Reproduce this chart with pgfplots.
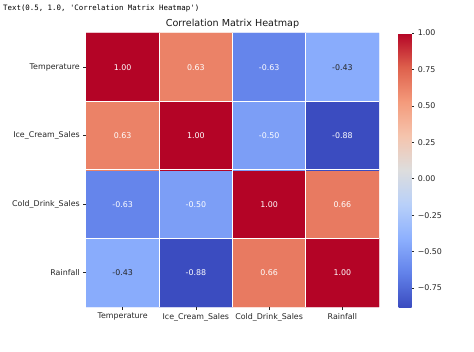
\documentclass[border=0pt]{standalone}
\usepackage{fontspec}
\setmainfont{DejaVu Sans}
\newfontfamily\monofont{DejaVu Sans Mono}
\usepackage{pgfplots}
\usepackage{pgfplotstable}
\pgfplotsset{compat=1.18}

\pgfplotstableread{
x y c
0 0 -0.43
1 0 -0.88
2 0 0.66
3 0 1.00
0 1 -0.63
1 1 -0.50
2 1 1.00
3 1 0.66
0 2 0.63
1 2 1.00
2 2 -0.50
3 2 -0.88
0 3 1.00
1 3 0.63
2 3 -0.63
3 3 -0.43
}\corr

\pgfplotstableread{
x y lab
1 0 -0.88
2 0 0.66
3 0 1.00
0 1 -0.63
1 1 -0.50
2 1 1.00
3 1 0.66
0 2 0.63
1 2 1.00
2 2 -0.50
3 2 -0.88
0 3 1.00
1 3 0.63
2 3 -0.63
}\whitelabs

\pgfplotstableread{
x y lab
0 0 -0.43
3 3 -0.43
}\darklabs

\begin{document}
\begin{tikzpicture}
\useasboundingbox (0,0) rectangle (474pt,351pt);
\node[anchor=base west, inner sep=0pt, font=\monofont\fontsize{7.4}{9}\selectfont] at (3pt,340pt)
  {Text(0.5, 1.0, \textquotesingle Correlation Matrix Heatmap\textquotesingle)};
\begin{axis}[
  name=main,
  at={(86pt,44pt)}, anchor=south west,
  scale only axis, width=293pt, height=274pt,
  xmin=-0.5, xmax=3.5, ymin=-0.5, ymax=3.5,
  enlargelimits=false,
  axis line style={draw=none},
  xtick={0,1,2,3}, ytick={0,1,2,3},
  xticklabels={Temperature,Ice\_Cream\_Sales,Cold\_Drink\_Sales,Rainfall},
  yticklabels={Rainfall,Cold\_Drink\_Sales,Ice\_Cream\_Sales,Temperature},
  xtick pos=bottom, ytick pos=left,
  tick align=outside, major tick length=2.7pt,
  tick style={black!85, line width=0.6pt},
  ticklabel style={font=\fontsize{7.9}{9}\selectfont, text=black!85},
  extra x ticks={0.5,1.5,2.5}, extra y ticks={0.5,1.5,2.5},
  extra x tick labels={}, extra y tick labels={},
  extra tick style={grid=major, major grid style={white, line width=1pt}, major tick length=0pt},
  axis on top,
  colormap={coolwarm}{rgb255=(59,76,192) rgb255=(98,130,234) rgb255=(141,176,254) rgb255=(184,208,249) rgb255=(221,221,221) rgb255=(245,196,173) rgb255=(244,154,123) rgb255=(222,96,76) rgb255=(180,4,38)},
  point meta min=-0.88, point meta max=1.00,
  colorbar,
  colorbar style={
    at={(parent axis.north east)}, anchor=north west, xshift=11pt,
    width=13pt, height=274pt, scale only axis,
    axis line style={draw=none},
    ytick={-0.75,-0.5,-0.25,0,0.25,0.5,0.75,1},
    yticklabels={−0.75,−0.50,−0.25,0.00,0.25,0.50,0.75,1.00},
    ytick pos=right, tick align=outside, major tick length=2.7pt,
    tick style={black!85, line width=0.6pt},
    yticklabel style={font=\fontsize{7.9}{9}\selectfont, text=black!85},
  },
]
\addplot[matrix plot*, mesh/cols=4, point meta=explicit] table[x=x, y=y, meta=c] {\corr};
\addplot[only marks, mark=none, nodes near coords, point meta=explicit symbolic,
  nodes near coords style={white, anchor=center, font=\fontsize{7.9}{9}\selectfont}]
  table[x=x, y=y, meta=lab] {\whitelabs};
\addplot[only marks, mark=none, nodes near coords, point meta=explicit symbolic,
  nodes near coords style={black!85, anchor=center, font=\fontsize{7.9}{9}\selectfont}]
  table[x=x, y=y, meta=lab] {\darklabs};
\end{axis}
\node[anchor=base, inner sep=0pt, yshift=6pt, font=\fontsize{9.6}{11}\selectfont, text=black!90]
  at (main.north) {Correlation Matrix Heatmap};
\end{tikzpicture}
\end{document}
